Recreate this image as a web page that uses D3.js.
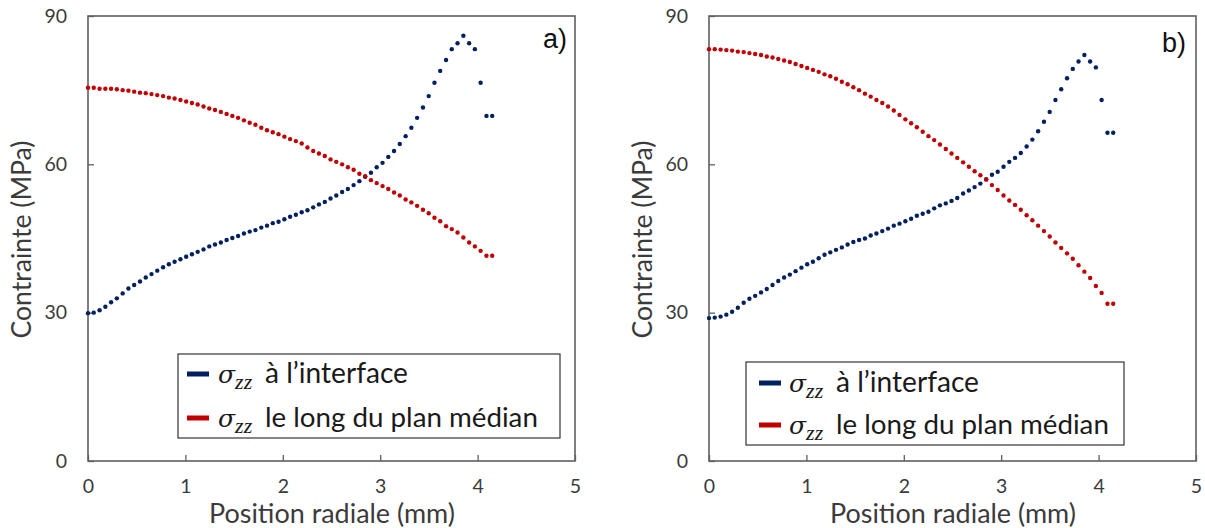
<!DOCTYPE html>
<html>
<head>
<meta charset="utf-8">
<script src="https://cdn.jsdelivr.net/npm/d3@7/dist/d3.min.js"></script>
<style>
  html, body { margin: 0; padding: 0; background: #ffffff; }
  svg { display: block; }
</style>
</head>
<body>
<svg id="chart" width="1205" height="528"></svg>
<script>
// ---------------- DATA ----------------
const xPos = [0, 0.059, 0.119, 0.178, 0.237, 0.296, 0.356, 0.415, 0.474, 0.534,
  0.593, 0.652, 0.711, 0.771, 0.830, 0.889, 0.949, 1.008, 1.067, 1.126,
  1.186, 1.245, 1.304, 1.364, 1.423, 1.482, 1.541, 1.601, 1.660, 1.719,
  1.779, 1.838, 1.897, 1.956, 2.016, 2.075, 2.134, 2.194, 2.253, 2.312,
  2.371, 2.431, 2.490, 2.549, 2.609, 2.668, 2.727, 2.786, 2.846, 2.905,
  2.964, 3.024, 3.083, 3.142, 3.201, 3.261, 3.320, 3.379, 3.439, 3.498,
  3.557, 3.616, 3.676, 3.735, 3.794, 3.854, 3.913, 3.972, 4.031, 4.091, 4.150];

// Panel a)
const interfaceA = [29.9, 30.0, 30.5, 31.2, 32.1, 32.9, 33.9, 34.9, 35.6, 36.3,
  37.1, 37.8, 38.5, 39.2, 39.8, 40.3, 40.8, 41.3, 41.8, 42.3,
  42.8, 43.4, 43.8, 44.2, 44.7, 45.1, 45.5, 46.0, 46.4, 46.7,
  47.2, 47.6, 48.1, 48.4, 48.9, 49.4, 49.8, 50.3, 50.7, 51.3,
  51.9, 52.4, 53.1, 53.7, 54.4, 55.0, 55.8, 56.6, 57.5, 58.3,
  59.4, 60.3, 61.5, 62.7, 64.1, 65.7, 67.4, 69.4, 71.5, 73.8,
  76.5, 78.9, 81.1, 83.3, 84.5, 86.0, 84.5, 83.3, 76.5, 69.8, 69.8];
const medianA = [75.5, 75.5, 75.3, 75.3, 75.3, 75.2, 75.0, 74.9, 74.7, 74.5,
  74.4, 74.2, 74.0, 73.8, 73.5, 73.3, 73.0, 72.7, 72.4, 72.1,
  71.7, 71.3, 71.0, 70.6, 70.2, 69.8, 69.4, 68.9, 68.4, 68.0,
  67.4, 66.9, 66.5, 66.1, 65.6, 65.1, 64.7, 64.2, 63.4, 62.7,
  62.2, 61.7, 61.0, 60.5, 60.0, 59.4, 58.9, 58.1, 57.6, 56.8,
  56.2, 55.6, 55.0, 54.3, 53.7, 52.9, 52.3, 51.6, 50.8, 50.1,
  49.2, 48.5, 47.5, 46.9, 46.2, 45.2, 44.2, 43.4, 42.5, 41.5, 41.5];

// Panel b)
const interfaceB = [28.9, 29.0, 29.2, 29.6, 30.2, 31.0, 32.0, 32.8, 33.4, 34.1,
  34.8, 35.6, 36.4, 37.1, 37.7, 38.4, 39.1, 39.8, 40.3, 41.0,
  41.7, 42.2, 42.7, 43.2, 43.8, 44.3, 44.7, 45.0, 45.6, 46.0,
  46.5, 47.0, 47.6, 48.0, 48.5, 49.0, 49.6, 50.0, 50.4, 51.1,
  51.7, 52.1, 52.6, 53.2, 54.1, 54.7, 55.4, 56.1, 57.0, 57.9,
  58.5, 59.5, 60.5, 61.3, 62.3, 63.6, 65.0, 66.7, 68.6, 70.6,
  73.0, 75.2, 77.4, 79.3, 80.8, 82.1, 80.8, 79.6, 73.0, 66.4, 66.4];
const medianB = [83.3, 83.3, 83.2, 83.1, 83.0, 82.8, 82.7, 82.5, 82.3, 82.1,
  81.8, 81.6, 81.3, 81.0, 80.7, 80.3, 79.9, 79.5, 79.1, 78.7,
  78.2, 77.8, 77.3, 76.7, 76.2, 75.6, 75.0, 74.3, 73.7, 73.0,
  72.4, 71.7, 70.9, 70.0, 69.1, 68.3, 67.5, 66.6, 65.7, 64.9,
  64.0, 63.1, 62.2, 61.3, 60.4, 59.5, 58.6, 57.8, 56.9, 55.8,
  54.8, 53.7, 52.7, 51.8, 50.8, 49.7, 48.7, 47.6, 46.5, 45.4,
  44.2, 43.1, 42.0, 40.9, 39.6, 38.3, 37.0, 35.4, 34.0, 31.8, 31.8];

const xTicks = [0, 1, 2, 3, 4, 5];
const yTicks = [0, 30, 60, 90];
const xDomain = [0, 5];
const yDomain = [0, 90];
const panelLabels = ["a)", "b)"];
const seriesSymbol = "σ";
const seriesSub = "zz";
const seriesNames = ["à l’interface", "le long du plan médian"];
const xTitle = "Position radiale (mm)";
const yTitle = "Contrainte (MPa)";

// ---------------- STYLE / LAYOUT ----------------
const colors = ["#002060", "#C00000"];
const axisColor = "#5f5f5f";
const textColor = "#3b3b3b";
const sansFont = "Lato, 'Open Sans', sans-serif";

const panels = [
  { left: 88, right: 575, top: 16, bottom: 461, series: [interfaceA, medianA],
    label: panelLabels[0], labelX: 543, labelY: 48,
    yTitleX: 31, xTitleX: 332,
    legend: { x: 178, y: 354, w: 382, h: 84, sw: 187, r1: 374, r2: 418, sig: 218, txt: 265 } },
  { left: 709, right: 1196, top: 16, bottom: 461, series: [interfaceB, medianB],
    label: panelLabels[1], labelX: 1162, labelY: 52,
    yTitleX: 652, xTitleX: 953,
    legend: { x: 746, y: 362, w: 378, h: 83, sw: 759, r1: 383, r2: 425, sig: 789, txt: 836 } }
];

const svg = d3.select("#chart");

function fitWidth(sel, target) {
  const w = sel.node().getComputedTextLength();
  const fs = parseFloat(sel.attr("font-size"));
  if (w > 0) sel.attr("font-size", (fs * target / w).toFixed(2));
}

panels.forEach(p => {
  const x = d3.scaleLinear().domain(xDomain).range([p.left, p.right]);
  const y = d3.scaleLinear().domain(yDomain).range([p.bottom, p.top]);
  const g = svg.append("g");

  // frame
  g.append("rect")
    .attr("x", p.left).attr("y", p.top)
    .attr("width", p.right - p.left).attr("height", p.bottom - p.top)
    .attr("fill", "none").attr("stroke", axisColor).attr("stroke-width", 1.6);

  // x axis
  const gx = g.append("g").attr("transform", `translate(0,${p.bottom})`)
    .call(d3.axisBottom(x).tickValues(xTicks).tickSize(-6).tickPadding(18.5).tickFormat(d3.format("d")));
  gx.select(".domain").remove();
  gx.selectAll(".tick line").attr("stroke", axisColor).attr("stroke-width", 1.3);
  gx.selectAll(".tick text").attr("font-family", sansFont).attr("font-size", 19.5).attr("fill", textColor);

  // y axis
  const gy = g.append("g").attr("transform", `translate(${p.left},0)`)
    .call(d3.axisLeft(y).tickValues(yTicks).tickSize(-6).tickPadding(21).tickFormat(d3.format("d")));
  gy.select(".domain").remove();
  gy.selectAll(".tick line").attr("stroke", axisColor).attr("stroke-width", 1.3);
  gy.selectAll(".tick text").attr("font-family", sansFont).attr("font-size", 19.5).attr("fill", textColor);

  // points
  p.series.forEach((vals, si) => {
    g.append("g").selectAll("circle")
      .data(vals.map((v, i) => [xPos[i], v]))
      .join("circle")
      .attr("cx", d => x(d[0]))
      .attr("cy", d => y(d[1]))
      .attr("r", 2.2)
      .attr("fill", colors[si]);
  });

  // panel label
  g.append("text").attr("x", p.labelX).attr("y", p.labelY)
    .attr("font-family", "'Liberation Sans', Arial, sans-serif").attr("font-size", 27)
    .attr("fill", "#111").text(p.label);

  // axis titles
  const yt = g.append("text")
    .attr("transform", `translate(${p.yTitleX},${(p.top + p.bottom) / 2 + 1}) rotate(-90)`)
    .attr("text-anchor", "middle")
    .attr("font-family", sansFont).attr("font-size", 26).attr("fill", textColor)
    .text(yTitle);
  fitWidth(yt, 198);

  const xt = g.append("text")
    .attr("x", p.xTitleX).attr("y", 522.6)
    .attr("text-anchor", "middle")
    .attr("font-family", sansFont).attr("font-size", 26).attr("fill", textColor)
    .text(xTitle);
  fitWidth(xt, 246);

  // legend
  const L = p.legend;
  const lg = g.append("g");
  lg.append("rect").attr("x", L.x).attr("y", L.y).attr("width", L.w).attr("height", L.h)
    .attr("fill", "#fff").attr("stroke", "#333").attr("stroke-width", 1.2);
  const rows = [L.r1, L.r2];
  const targets = [143, 273];
  seriesNames.forEach((name, i) => {
    const ry = rows[i];
    lg.append("rect").attr("x", L.sw).attr("y", ry - 2.5).attr("width", 22).attr("height", 5)
      .attr("fill", colors[i]);
    const sym = lg.append("text").attr("x", L.sig).attr("y", ry + 9)
      .attr("fill", "#1a1a1a").attr("font-style", "italic");
    sym.append("tspan")
      .attr("font-family", "'DejaVu Serif', 'Liberation Serif', serif")
      .attr("font-size", 25).text(seriesSymbol);
    sym.append("tspan")
      .attr("font-family", "'Liberation Serif', serif")
      .attr("font-size", 22).attr("dy", 6).attr("dx", 0).text(seriesSub);
    const t = lg.append("text").attr("x", L.txt).attr("y", ry + 9)
      .attr("font-family", sansFont).attr("font-size", 26).attr("fill", "#1a1a1a")
      .text(name);
    fitWidth(t, targets[i]);
  });
});
</script>
</body>
</html>
